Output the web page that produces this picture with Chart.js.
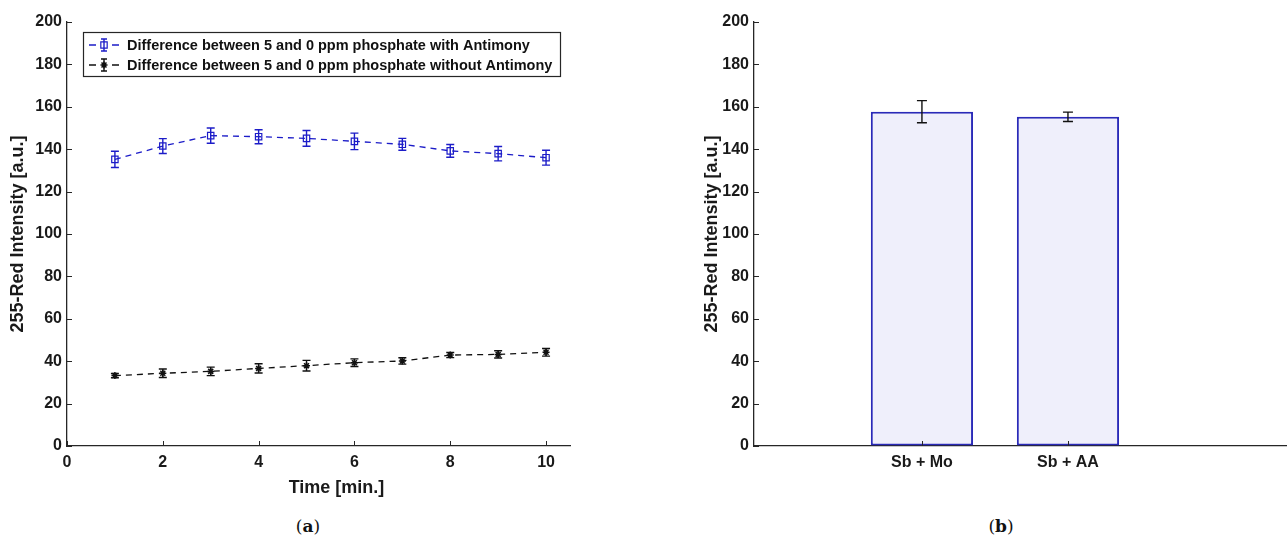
<!DOCTYPE html>
<html>
<head>
<meta charset="utf-8">
<script src="https://cdn.jsdelivr.net/npm/chart.js@4.4.0/dist/chart.umd.min.js"></script>
<style>
body{margin:0;background:#fff;width:1287px;height:541px;position:relative;overflow:hidden}
.box{position:absolute;top:0;height:500px}
#boxA{left:0;width:600px}
#boxB{left:690px;width:597px}
.cap{position:absolute;top:516px;transform:translateX(-50%);font-family:"DejaVu Serif","Liberation Serif",serif;font-size:17px;color:#111}
</style>
</head>
<body>
<div class="box" id="boxA"><canvas id="chartA"></canvas></div>
<div class="box" id="boxB"><canvas id="chartB"></canvas></div>
<div class="cap" style="left:308px">(<b>a</b>)</div>
<div class="cap" style="left:1001px">(<b>b</b>)</div>
<script>
'use strict';

// (a) time series, minutes
let times=[1,2,3,4,5,6,7,8,9,10]
let withSb=[135.2,141.5,146.4,145.9,145.1,143.7,142.3,139.2,137.9,136.0]
let withSbErr=[3.8,3.5,3.6,3.3,3.7,3.9,2.8,3.0,3.4,3.5]
let withoutSb=[33.2,34.3,35.2,36.6,37.9,39.3,40.1,42.9,43.2,44.2]
let withoutSbErr=[1.0,2.0,2.0,2.2,2.5,1.8,1.5,1.2,1.7,1.8]
let seriesNames=['Difference between 5 and 0 ppm phosphate with Antimony','Difference between 5 and 0 ppm phosphate without Antimony']
let xTicksA=[0,2,4,6,8,10]
let yTicks=[0,20,40,60,80,100,120,140,160,180,200]

// (b) bars
let reagents=['Sb + Mo','Sb + AA']
let reagentVals=[157.7,155.3]
let reagentErr=[5.2,2.2]

let axisColor='#262626'
let blue='#1c1cc8'
let tickFont={family:'"Liberation Sans", Arial, sans-serif',size:16,weight:'bold'}
let titleFont={family:'"Liberation Sans", Arial, sans-serif',size:18,weight:'bold'}

function drawErrors(chart)
{
    let ctx=chart.ctx
    let ys=chart.scales.y
    chart.data.datasets.forEach((ds,i)=>{
        if(!ds.errors) return
        let meta=chart.getDatasetMeta(i)
        ctx.save()
        ctx.strokeStyle=ds.errColor||ds.borderColor
        ctx.lineWidth=1.4
        meta.data.forEach((el,j)=>{
            let v=ds.data[j].y
            let top=ys.getPixelForValue(v+ds.errors[j])
            let bot=ys.getPixelForValue(v-ds.errors[j])
            let cw=ds.capWidth||4
            ctx.beginPath()
            ctx.moveTo(el.x,top);ctx.lineTo(el.x,bot)
            ctx.moveTo(el.x-cw,top);ctx.lineTo(el.x+cw,top)
            ctx.moveTo(el.x-cw,bot);ctx.lineTo(el.x+cw,bot)
            ctx.stroke()
        })
        ctx.restore()
    })
}

let matlabAxes={
    id:'matlabAxes',
    beforeDatasetsDraw(chart,args,opts)
    {
        if(!opts.errOnTop) drawErrors(chart)
    },
    afterDatasetsDraw(chart,args,opts)
    {
        if(opts.errOnTop) drawErrors(chart)
    },
    afterDraw(chart,args,opts)
    {
        let ctx=chart.ctx
        let area=chart.chartArea
        ctx.save()
        ctx.strokeStyle=axisColor
        ctx.lineWidth=1
        ctx.beginPath()
        chart.scales.y.ticks.forEach(t=>{
            let py=Math.round(chart.scales.y.getPixelForValue(t.value))+0.5
            ctx.moveTo(area.left,py);ctx.lineTo(area.left+5,py)
        })
        chart.scales.x.ticks.forEach(t=>{
            let px=Math.round(chart.scales.x.getPixelForValue(t.value))+0.5
            ctx.moveTo(px,area.bottom);ctx.lineTo(px,area.bottom-5)
        })
        ctx.stroke()

        // xlabel sits a bit right of the axis centre, as in the figure
        if(opts.xTitle)
        {
            ctx.fillStyle='#1a1a1a'
            ctx.font='bold 18px "Liberation Sans", Arial, sans-serif'
            ctx.textAlign='center'
            ctx.textBaseline='middle'
            ctx.fillText(opts.xTitle,(area.left+area.right)/2+18,area.bottom+42)
        }

        if(opts.legend)
        {
            ctx.lineWidth=1.2
            ctx.strokeStyle=axisColor
            ctx.strokeRect(83.5,32.5,477,44)
            chart.data.datasets.forEach((ds,i)=>{
                let y=45+i*20
                ctx.strokeStyle=ds.borderColor
                ctx.lineWidth=1.4
                ctx.beginPath()
                ctx.moveTo(89,y);ctx.lineTo(96,y)
                ctx.moveTo(112,y);ctx.lineTo(119,y)
                ctx.moveTo(104,y-6);ctx.lineTo(104,y+6)
                ctx.moveTo(101,y-6);ctx.lineTo(107,y-6)
                ctx.moveTo(101,y+6);ctx.lineTo(107,y+6)
                ctx.stroke()
                ctx.fillStyle=ds.pointBackgroundColor
                ctx.lineWidth=ds.pointBorderWidth
                Chart.helpers.drawPoint(ctx,{pointStyle:ds.pointStyle,radius:ds.pointRadius,borderWidth:ds.pointBorderWidth},104,y)
                ctx.fillStyle='#111'
                ctx.font='bold 14.5px "Liberation Sans", Arial, sans-serif'
                ctx.textBaseline='middle'
                ctx.textAlign='left'
                ctx.fillText(ds.label,127,y+0.5)
            })
        }
        ctx.restore()
    }
}

function yAxis(width,titlePad)
{
    return {
        min:0,max:200,
        afterBuildTicks(s){s.ticks=yTicks.map(v=>({value:v}))},
        ticks:{padding:5,font:tickFont,color:'#1a1a1a'},
        grid:{display:true,drawOnChartArea:false,drawTicks:false},
        border:{color:axisColor,width:1.3},
        title:{display:true,text:'255-Red Intensity [a.u.]',font:titleFont,color:'#1a1a1a',padding:{top:titlePad,bottom:0}},
        afterFit(s){s.width=width}
    }
}

let ctxA=document.getElementById('chartA').getContext('2d')
let chartA=new Chart(ctxA,{
    type:'line',
    data:{
        datasets:[
            {
                label:seriesNames[0],
                data:times.map((t,i)=>({x:t,y:withSb[i]})),
                errors:withSbErr,
                borderColor:blue,
                borderDash:[6,5],
                borderWidth:1.3,
                pointStyle:'rect',
                pointRadius:4.5,
                pointBackgroundColor:'rgba(0,0,0,0)',
                pointBorderColor:blue,
                pointBorderWidth:1.2,
                tension:0,
                fill:false
            },
            {
                label:seriesNames[1],
                data:times.map((t,i)=>({x:t,y:withoutSb[i]})),
                errors:withoutSbErr,
                borderColor:'#111111',
                borderDash:[6,5],
                borderWidth:1.3,
                pointStyle:'star',
                pointRadius:3.5,
                pointBackgroundColor:'#111111',
                pointBorderColor:'#111111',
                pointBorderWidth:1.5,
                tension:0,
                fill:false
            }
        ]
    },
    options:{
        responsive:true,
        maintainAspectRatio:false,
        animation:false,
        layout:{padding:{left:0,top:22,right:30,bottom:0}},
        plugins:{
            legend:{display:false},
            tooltip:{enabled:false},
            matlabAxes:{legend:true,errOnTop:false,xTitle:'Time [min.]'}
        },
        scales:{
            x:{
                type:'linear',min:0,max:10.5,
                afterBuildTicks(s){s.ticks=xTicksA.map(v=>({value:v}))},
                ticks:{padding:7,font:tickFont,color:'#1a1a1a'},
                grid:{display:true,drawOnChartArea:false,drawTicks:false},
                border:{color:axisColor,width:1.3},
                afterFit(s){s.height=54}
            },
            y:yAxis(67,7)
        }
    },
    plugins:[matlabAxes]
})

let ctxB=document.getElementById('chartB').getContext('2d')
let chartB=new Chart(ctxB,{
    type:'bar',
    data:{
        datasets:[{
            label:'255-Red Intensity',
            data:reagents.map((r,i)=>({x:i+1,y:reagentVals[i]})),
            errors:reagentErr,
            errColor:'#111111',
            capWidth:5,
            backgroundColor:'#efeffb',
            borderColor:'#2a2ab8',
            borderWidth:2,
            borderSkipped:false,
            categoryPercentage:1,
            barPercentage:0.7
        }]
    },
    options:{
        responsive:true,
        maintainAspectRatio:false,
        animation:false,
        layout:{padding:{left:0,top:22,right:0,bottom:0}},
        plugins:{
            legend:{display:false},
            tooltip:{enabled:false},
            matlabAxes:{legend:false,errOnTop:true}
        },
        scales:{
            x:{
                type:'linear',min:-0.15,max:3.5,offset:false,
                afterBuildTicks(s){s.ticks=reagents.map((r,i)=>({value:i+1}))},
                ticks:{padding:7,font:tickFont,color:'#1a1a1a',callback:(v)=>reagents[v-1]},
                grid:{display:true,drawOnChartArea:false,drawTicks:false,offset:false},
                border:{color:axisColor,width:1.3},
                afterFit(s){s.height=54}
            },
            y:yAxis(64,11)
        }
    },
    plugins:[matlabAxes]
})
</script>
</body>
</html>
